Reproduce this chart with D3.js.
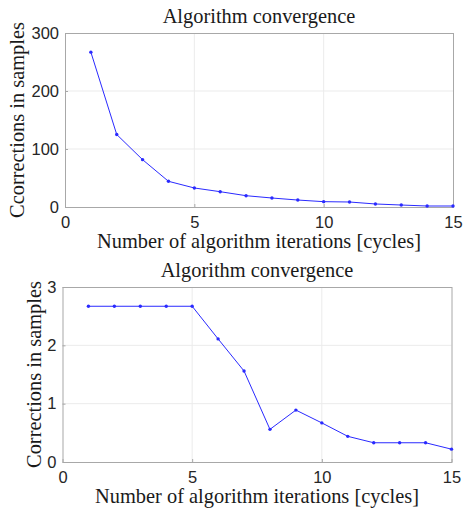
<!DOCTYPE html>
<html>
<head>
<meta charset="utf-8">
<script src="https://cdn.jsdelivr.net/npm/d3@7"></script>
<style>
  body { margin: 0; background: #fff; }
  svg { display: block; }
</style>
</head>
<body>
<svg width="464" height="511"></svg>
<script>
// iterations 1..15
var iterations = [1, 2, 3, 4, 5, 6, 7, 8, 9, 10, 11, 12, 13, 14, 15];
// top panel: corrections in samples
var topValues = [267, 125, 81.6, 44.3, 32.8, 26.4, 19.5, 15.5, 12, 9.2, 8.6, 5.2, 3.4, 1.7, 1.7];
// bottom panel
var bottomValues = [2.67, 2.67, 2.67, 2.67, 2.67, 2.11, 1.56, 0.56, 0.89, 0.67, 0.44, 0.33, 0.33, 0.33, 0.22];

var xTicks = [0, 5, 10, 15];
var topYTicks = [0, 100, 200, 300];
var bottomYTicks = [0, 1, 2, 3];

var titleText = "Algorithm convergence";
var xLabel = "Number of algorithm iterations [cycles]";
var topYLabel = "Ccorrections in samples";
var bottomYLabel = "Corrections in samples";

var svg = d3.select("svg");
var serif = "'Liberation Serif', 'DejaVu Serif', serif";
var sans = "'Liberation Sans', Arial, sans-serif";

function panel(box, values, yMax, yTicks, yLabel, ylabX) {
    var x = d3.scaleLinear().domain([0, 15]).range([box.left, box.right]);
    var y = d3.scaleLinear().domain([0, yMax]).range([box.bottom, box.top]);
    var g = svg.append("g");

    // grid
    g.append("g").selectAll("line")
        .data(xTicks.slice(1, -1)).enter().append("line")
        .attr("x1", d => x(d)).attr("x2", d => x(d))
        .attr("y1", box.top).attr("y2", box.bottom)
        .attr("stroke", "#ebebeb");
    g.append("g").selectAll("line")
        .data(yTicks.slice(1, -1)).enter().append("line")
        .attr("y1", d => y(d)).attr("y2", d => y(d))
        .attr("x1", box.left).attr("x2", box.right)
        .attr("stroke", "#ebebeb");

    // axes
    var xAxis = g.append("g")
        .attr("transform", "translate(0," + box.bottom + ")")
        .call(d3.axisBottom(x).tickValues(xTicks).tickFormat(d3.format("d")).tickSize(-3).tickPadding(9));
    var yAxis = g.append("g")
        .attr("transform", "translate(" + box.left + ",0)")
        .call(d3.axisLeft(y).tickValues(yTicks).tickFormat(d3.format("d")).tickSize(-3).tickPadding(6));
    [xAxis, yAxis].forEach(function (a) {
        a.select(".domain").remove();
        a.selectAll("line").attr("stroke", "#a8a8a8");
        a.selectAll("text").attr("fill", "#262626")
            .style("font-family", sans).style("font-size", "16.5px");
    });

    // box
    g.append("rect")
        .attr("x", box.left + 0.5).attr("y", box.top + 0.5)
        .attr("width", box.right - box.left).attr("height", box.bottom - box.top)
        .attr("fill", "none").attr("stroke", "#a8a8a8");

    // line
    var line = d3.line().x((d, i) => x(iterations[i])).y(d => y(d));
    g.append("path").datum(values)
        .attr("d", line)
        .attr("fill", "none").attr("stroke", "#2a2aff").attr("stroke-width", 1);
    g.append("g").selectAll("circle")
        .data(values).enter().append("circle")
        .attr("cx", (d, i) => x(iterations[i])).attr("cy", d => y(d))
        .attr("r", 1.7).attr("fill", "#2a2aff");

    // texts
    var cx = (box.left + box.right) / 2;
    var fs = "20.4px";
    g.append("text").text(titleText)
        .attr("x", cx).attr("y", box.top - 10)
        .attr("text-anchor", "middle")
        .style("font-family", serif).style("font-size", fs).attr("fill", "#1a1a1a");
    g.append("text").text(xLabel)
        .attr("x", cx).attr("y", box.bottom + 41)
        .attr("text-anchor", "middle")
        .style("font-family", serif).style("font-size", fs).attr("fill", "#1a1a1a");
    g.append("text").text(yLabel)
        .attr("transform", "translate(" + ylabX + "," + (box.top + box.bottom) / 2 + ") rotate(-90)")
        .attr("text-anchor", "middle")
        .style("font-family", serif).style("font-size", fs).attr("fill", "#1a1a1a");
}

panel({left: 65, right: 453, top: 33, bottom: 207}, topValues, 300, topYTicks, topYLabel, 24);
panel({left: 62.5, right: 451.5, top: 287, bottom: 462}, bottomValues, 3, bottomYTicks, bottomYLabel, 41);
</script>
</body>
</html>
